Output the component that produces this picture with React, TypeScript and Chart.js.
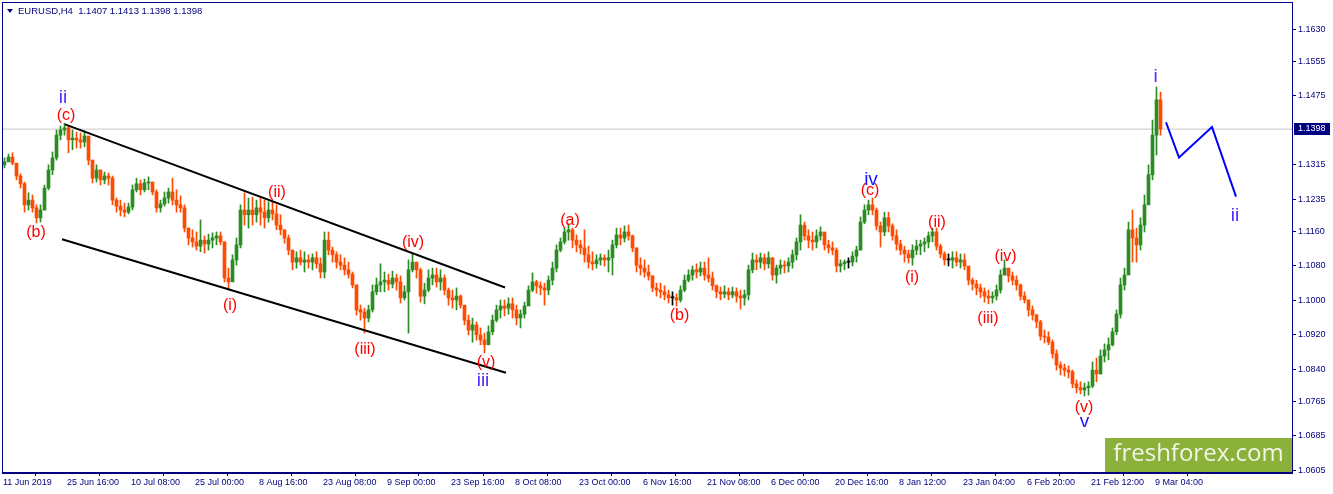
import React, { useEffect, useRef } from 'react';
import { Chart, registerables } from 'chart.js';

Chart.register(...registerables);

// ---------- data ----------
const headerText = 'EURUSD,H4  1.1407 1.1413 1.1398 1.1398';

const xTickLabels = [
  '11 Jun 2019', '25 Jun 16:00', '10 Jul 08:00', '25 Jul 00:00', '8 Aug 16:00',
  '23 Aug 08:00', '9 Sep 00:00', '23 Sep 16:00', '8 Oct 08:00', '23 Oct 00:00',
  '6 Nov 16:00', '21 Nov 08:00', '6 Dec 00:00', '20 Dec 16:00', '8 Jan 12:00',
  '23 Jan 04:00', '6 Feb 20:00', '21 Feb 12:00', '9 Mar 04:00',
];

const yTickValues = [
  1.1630, 1.1555, 1.1475, 1.1315, 1.1235, 1.1160, 1.1080,
  1.1000, 1.0920, 1.0840, 1.0765, 1.0685, 1.0605,
];

const BARS_PER_TICK = 64; // H4 bars between time labels
const BARS_PER_CANDLE = 4; // each drawn candle groups 4 H4 bars

const firstOpen = 1.1315;

const highs = [
  1.1331, 1.1340, 1.1343, 1.1308, 1.1294, 1.1275, 1.1250, 1.1245, 1.1222, 1.1222, 1.1268, 1.1315, 1.1345, 1.1396, 1.1405, 1.1412,
  1.1405, 1.1396, 1.1391, 1.1389, 1.1394, 1.1373, 1.1326, 1.1315, 1.1303, 1.1298, 1.1296, 1.1289, 1.1238, 1.1233, 1.1226, 1.1226,
  1.1268, 1.1284, 1.1280, 1.1282, 1.1287, 1.1275, 1.1257, 1.1233, 1.1252, 1.1261, 1.1284, 1.1257, 1.1243, 1.1222, 1.1168, 1.1164,
  1.1159, 1.1187, 1.1150, 1.1154, 1.1157, 1.1159, 1.1159, 1.1136, 1.1075, 1.1106, 1.1145, 1.1222, 1.1250, 1.1238, 1.1240, 1.1233,
  1.1238, 1.1233, 1.1229, 1.1229, 1.1222, 1.1199, 1.1164, 1.1152, 1.1117, 1.1113, 1.1117, 1.1113, 1.1106, 1.1108, 1.1113, 1.1099,
  1.1159, 1.1159, 1.1124, 1.1113, 1.1106, 1.1099, 1.1089, 1.1066, 1.1036, 1.0989, 1.0982, 1.0989, 1.1036, 1.1052, 1.1085, 1.1066,
  1.1061, 1.1068, 1.1061, 1.1057, 1.1034, 1.1094, 1.1110, 1.1089, 1.1075, 1.1040, 1.1071, 1.1075, 1.1075, 1.1071, 1.1059, 1.1029,
  1.1024, 1.1029, 1.1013, 1.0989, 1.0966, 1.0959, 1.0950, 1.0936, 1.0924, 1.0941, 1.0966, 1.0989, 1.1001, 1.1001, 1.1006, 1.1006,
  1.0989, 1.0978, 1.0996, 1.1034, 1.1064, 1.1047, 1.1043, 1.1040, 1.1057, 1.1089, 1.1129, 1.1145, 1.1168, 1.1178, 1.1168, 1.1152,
  1.1140, 1.1164, 1.1126, 1.1113, 1.1106, 1.1108, 1.1106, 1.1117, 1.1140, 1.1168, 1.1168, 1.1173, 1.1175, 1.1152, 1.1122, 1.1099,
  1.1094, 1.1082, 1.1057, 1.1040, 1.1040, 1.1034, 1.1024, 1.1020, 1.1015, 1.1034, 1.1059, 1.1071, 1.1080, 1.1085, 1.1089, 1.1089,
  1.1099, 1.1066, 1.1036, 1.1031, 1.1034, 1.1029, 1.1031, 1.1029, 1.1024, 1.1024, 1.1082, 1.1110, 1.1106, 1.1110, 1.1108, 1.1113,
  1.1099, 1.1082, 1.1094, 1.1092, 1.1099, 1.1117, 1.1145, 1.1199, 1.1182, 1.1164, 1.1159, 1.1164, 1.1171, 1.1152, 1.1140, 1.1136,
  1.1122, 1.1094, 1.1094, 1.1099, 1.1113, 1.1126, 1.1194, 1.1222, 1.1233, 1.1238, 1.1215, 1.1182, 1.1205, 1.1205, 1.1178, 1.1164,
  1.1140, 1.1126, 1.1117, 1.1129, 1.1140, 1.1140, 1.1145, 1.1159, 1.1168, 1.1168, 1.1131, 1.1113, 1.1108, 1.1113, 1.1113, 1.1108,
  1.1108, 1.1075, 1.1052, 1.1047, 1.1038, 1.1029, 1.1024, 1.1020, 1.1036, 1.1071, 1.1094, 1.1075, 1.1066, 1.1057, 1.1038, 1.1020,
  1.1001, 1.0987, 1.0968, 1.0954, 1.0931, 1.0927, 1.0908, 1.0885, 1.0857, 1.0852, 1.0848, 1.0838, 1.0815, 1.0811, 1.0808, 1.0811,
  1.0857, 1.0866, 1.0885, 1.0899, 1.0913, 1.0936, 1.0978, 1.1052, 1.1075, 1.1182, 1.1210, 1.1168, 1.1192, 1.1245, 1.1315, 1.1419, 1.1496, 1.1484,
];

const lows = [
  1.1308, 1.1322, 1.1315, 1.1280, 1.1261, 1.1205, 1.1210, 1.1205, 1.1180, 1.1182, 1.1210, 1.1257, 1.1292, 1.1326, 1.1373, 1.1384,
  1.1343, 1.1350, 1.1354, 1.1354, 1.1357, 1.1315, 1.1273, 1.1275, 1.1268, 1.1271, 1.1268, 1.1222, 1.1205, 1.1196, 1.1194, 1.1201,
  1.1210, 1.1252, 1.1245, 1.1252, 1.1257, 1.1245, 1.1205, 1.1205, 1.1219, 1.1226, 1.1222, 1.1205, 1.1205, 1.1159, 1.1129, 1.1124,
  1.1117, 1.1113, 1.1110, 1.1117, 1.1122, 1.1129, 1.1129, 1.1043, 1.1024, 1.1047, 1.1082, 1.1122, 1.1175, 1.1168, 1.1175, 1.1182,
  1.1175, 1.1168, 1.1182, 1.1187, 1.1164, 1.1152, 1.1133, 1.1106, 1.1071, 1.1075, 1.1082, 1.1066, 1.1075, 1.1071, 1.1075, 1.1052,
  1.1052, 1.1106, 1.1089, 1.1075, 1.1071, 1.1059, 1.1052, 1.1029, 1.0966, 1.0954, 1.0924, 1.0950, 1.0973, 1.1013, 1.1020, 1.1020,
  1.1024, 1.1029, 1.1024, 1.0994, 1.1001, 1.0924, 1.1066, 1.1052, 1.0996, 1.0992, 1.1020, 1.1036, 1.1031, 1.1024, 1.1013, 1.0989,
  1.0982, 1.0978, 1.0982, 1.0943, 1.0920, 1.0903, 1.0908, 1.0897, 1.0878, 1.0897, 1.0920, 1.0950, 1.0959, 1.0964, 1.0968, 1.0959,
  1.0943, 1.0936, 1.0959, 1.0989, 1.1020, 1.1017, 1.1013, 1.0989, 1.1013, 1.1036, 1.1066, 1.1113, 1.1131, 1.1140, 1.1122, 1.1113,
  1.1108, 1.1089, 1.1075, 1.1071, 1.1075, 1.1082, 1.1080, 1.1066, 1.1059, 1.1122, 1.1129, 1.1136, 1.1140, 1.1113, 1.1066, 1.1059,
  1.1054, 1.1047, 1.1020, 1.1010, 1.1006, 1.1001, 1.0994, 1.0989, 1.0987, 1.0996, 1.1020, 1.1043, 1.1047, 1.1052, 1.1057, 1.1047,
  1.1043, 1.1024, 1.1006, 1.1001, 1.1006, 1.1001, 1.1006, 1.0996, 1.0980, 1.0989, 1.1001, 1.1064, 1.1071, 1.1075, 1.1071, 1.1075,
  1.1047, 1.1040, 1.1061, 1.1064, 1.1066, 1.1075, 1.1094, 1.1117, 1.1140, 1.1122, 1.1117, 1.1122, 1.1140, 1.1117, 1.1110, 1.1106,
  1.1066, 1.1066, 1.1071, 1.1075, 1.1080, 1.1089, 1.1117, 1.1178, 1.1199, 1.1199, 1.1164, 1.1124, 1.1150, 1.1159, 1.1140, 1.1117,
  1.1106, 1.1089, 1.1087, 1.1082, 1.1106, 1.1106, 1.1113, 1.1122, 1.1136, 1.1117, 1.1099, 1.1082, 1.1080, 1.1075, 1.1080, 1.1075,
  1.1071, 1.1036, 1.1024, 1.1013, 1.1006, 1.0996, 1.0992, 1.0994, 1.1001, 1.1017, 1.1059, 1.1043, 1.1036, 1.1024, 1.1001, 1.0994,
  1.0964, 1.0954, 1.0936, 1.0908, 1.0901, 1.0897, 1.0866, 1.0838, 1.0827, 1.0824, 1.0820, 1.0797, 1.0785, 1.0783, 1.0778, 1.0780,
  1.0797, 1.0811, 1.0834, 1.0857, 1.0862, 1.0894, 1.0920, 1.0959, 1.1024, 1.1071, 1.1089, 1.1089, 1.1117, 1.1159, 1.1233, 1.1280, 1.1338, 1.1384,
];

const closes = [
  1.1322, 1.1333, 1.1319, 1.1289, 1.1271, 1.1222, 1.1233, 1.1215, 1.1192, 1.1210, 1.1261, 1.1303, 1.1331, 1.1384, 1.1396, 1.1401,
  1.1373, 1.1377, 1.1373, 1.1368, 1.1382, 1.1326, 1.1284, 1.1303, 1.1280, 1.1289, 1.1284, 1.1233, 1.1219, 1.1210, 1.1205, 1.1217,
  1.1257, 1.1271, 1.1257, 1.1273, 1.1275, 1.1252, 1.1215, 1.1224, 1.1238, 1.1252, 1.1233, 1.1222, 1.1215, 1.1168, 1.1145, 1.1136,
  1.1126, 1.1140, 1.1131, 1.1140, 1.1145, 1.1150, 1.1136, 1.1052, 1.1043, 1.1094, 1.1129, 1.1210, 1.1199, 1.1210, 1.1199, 1.1215,
  1.1205, 1.1192, 1.1210, 1.1201, 1.1175, 1.1164, 1.1145, 1.1117, 1.1089, 1.1099, 1.1089, 1.1094, 1.1089, 1.1099, 1.1085, 1.1066,
  1.1140, 1.1117, 1.1106, 1.1089, 1.1082, 1.1071, 1.1061, 1.1036, 1.0978, 1.0973, 1.0959, 1.0978, 1.1020, 1.1036, 1.1043, 1.1047,
  1.1038, 1.1052, 1.1043, 1.1006, 1.1020, 1.1071, 1.1089, 1.1071, 1.1010, 1.1024, 1.1052, 1.1059, 1.1043, 1.1052, 1.1024, 1.1006,
  1.1001, 1.1010, 1.0989, 1.0954, 1.0931, 1.0943, 1.0920, 1.0908, 1.0897, 1.0927, 1.0954, 1.0978, 1.0987, 1.0982, 1.0992, 1.0978,
  1.0959, 1.0968, 1.0987, 1.1024, 1.1043, 1.1034, 1.1029, 1.1024, 1.1047, 1.1075, 1.1117, 1.1136, 1.1159, 1.1164, 1.1140, 1.1129,
  1.1122, 1.1106, 1.1089, 1.1085, 1.1094, 1.1099, 1.1094, 1.1099, 1.1129, 1.1152, 1.1145, 1.1159, 1.1150, 1.1122, 1.1082, 1.1075,
  1.1066, 1.1057, 1.1029, 1.1024, 1.1020, 1.1013, 1.1006, 1.1006, 1.1001, 1.1024, 1.1047, 1.1059, 1.1071, 1.1066, 1.1075, 1.1059,
  1.1052, 1.1034, 1.1020, 1.1015, 1.1020, 1.1013, 1.1020, 1.1010, 1.1006, 1.1013, 1.1071, 1.1094, 1.1089, 1.1099, 1.1085, 1.1099,
  1.1059, 1.1075, 1.1082, 1.1080, 1.1089, 1.1106, 1.1136, 1.1175, 1.1150, 1.1140, 1.1136, 1.1150, 1.1159, 1.1129, 1.1122, 1.1117,
  1.1080, 1.1085, 1.1089, 1.1089, 1.1103, 1.1117, 1.1182, 1.1210, 1.1222, 1.1210, 1.1173, 1.1159, 1.1192, 1.1173, 1.1150, 1.1131,
  1.1117, 1.1108, 1.1099, 1.1117, 1.1126, 1.1131, 1.1136, 1.1150, 1.1159, 1.1126, 1.1108, 1.1094, 1.1094, 1.1099, 1.1089, 1.1094,
  1.1080, 1.1047, 1.1038, 1.1029, 1.1020, 1.1010, 1.1006, 1.1010, 1.1024, 1.1059, 1.1075, 1.1057, 1.1047, 1.1036, 1.1010, 1.1001,
  1.0978, 1.0966, 1.0950, 1.0917, 1.0915, 1.0903, 1.0876, 1.0850, 1.0843, 1.0838, 1.0834, 1.0806, 1.0797, 1.0792, 1.0797, 1.0801,
  1.0838, 1.0829, 1.0871, 1.0885, 1.0897, 1.0927, 1.0968, 1.1036, 1.1059, 1.1164, 1.1145, 1.1129, 1.1175, 1.1222, 1.1292, 1.1384, 1.1466, 1.1398,
];

const currentPrice = 1.1398;

// trend channel and projection (x in H4 bars from 11 Jun 2019, y in price)
const upperChannel = [{ x: 62, y: 1.1409 }, { x: 502, y: 1.1030 }];
const lowerChannel = [{ x: 59, y: 1.1142 }, { x: 503, y: 1.0832 }];
const projection = [
  { x: 1163, y: 1.1414 }, { x: 1176, y: 1.1332 }, { x: 1209, y: 1.1403 }, { x: 1233, y: 1.1241 },
];

const RED = '#FF0000';
const VIOLET = '#4A2CFF';
const BLUE = '#1414FF';
const waveLabels = [
  { text: '(c)', x: 63, y: 1.1430, color: RED, size: 16 },
  { text: '(b)', x: 33, y: 1.1158, color: RED, size: 16 },
  { text: '(i)', x: 227, y: 1.0989, color: RED, size: 16 },
  { text: '(ii)', x: 274, y: 1.1251, color: RED, size: 16 },
  { text: '(iii)', x: 362, y: 1.0886, color: RED, size: 16 },
  { text: '(iv)', x: 410, y: 1.1135, color: RED, size: 16 },
  { text: '(v)', x: 483, y: 1.0856, color: RED, size: 16 },
  { text: '(a)', x: 567, y: 1.1185, color: RED, size: 16 },
  { text: '(b)', x: 676.5, y: 1.0965, color: RED, size: 16 },
  { text: '(c)', x: 867, y: 1.1255, color: RED, size: 16 },
  { text: '(i)', x: 909, y: 1.1052, color: RED, size: 16 },
  { text: '(ii)', x: 934, y: 1.1180, color: RED, size: 16 },
  { text: '(iii)', x: 985, y: 1.0958, color: RED, size: 16 },
  { text: '(iv)', x: 1002.5, y: 1.1101, color: RED, size: 16 },
  { text: '(v)', x: 1081, y: 1.0752, color: RED, size: 16 },
  { text: 'ii', x: 60, y: 1.1470, color: VIOLET, size: 19 },
  { text: 'iii', x: 480, y: 1.0814, color: VIOLET, size: 19 },
  { text: 'iv', x: 868, y: 1.1281, color: BLUE, size: 19 },
  { text: 'v', x: 1081.5, y: 1.0718, color: BLUE, size: 19 },
  { text: 'i', x: 1152.5, y: 1.1519, color: VIOLET, size: 19 },
  { text: 'ii', x: 1232, y: 1.1196, color: VIOLET, size: 19 },
];

// ---------- styles ----------
const NAVY = '#000080';
const UP = '#2A8C22';
const DOWN = '#FF4A00';
const DOJI = '#000000';
const FONT = 'Liberation Sans';

const n = Math.min(highs.length, lows.length, closes.length);
const opens = closes.slice(0, n).map((_, i) => (i === 0 ? firstOpen : closes[i - 1]));
const candleX = opens.map((_, i) => i * BARS_PER_CANDLE + (BARS_PER_CANDLE - 1) / 2);
const candleColors = opens.map((o, i) => (closes[i] > o ? UP : closes[i] < o ? DOWN : DOJI));

const overlayPlugin = {
  id: 'mt4overlay',
  afterDraw(chart: any) {
    const { ctx, chartArea: a, scales } = chart;
    const xs = scales.x;
    const ys = scales.y;
    ctx.save();

    // wave labels
    ctx.textAlign = 'center';
    ctx.textBaseline = 'middle';
    for (const l of waveLabels) {
      ctx.font = `${l.size}px "${FONT}"`;
      ctx.fillStyle = l.color;
      ctx.fillText(l.text, xs.getPixelForValue(l.x), ys.getPixelForValue(l.y));
    }

    // watermark
    ctx.fillStyle = '#8CB13B';
    ctx.fillRect(1105, 438, a.right - 1105, a.bottom - 438);
    ctx.fillStyle = '#F1F5E6';
    ctx.font = '24px "Open Sans"';
    ctx.textAlign = 'center';
    ctx.textBaseline = 'middle';
    ctx.fillText('freshforex.com', 1198.5, 454);

    // frame
    ctx.strokeStyle = NAVY;
    ctx.lineWidth = 1;
    ctx.strokeRect(a.left + 0.5, a.top - 0.5, a.right - a.left, a.bottom - a.top);

    // current price box
    const py = Math.round(ys.getPixelForValue(currentPrice));
    ctx.fillStyle = NAVY;
    ctx.fillRect(a.right + 2, py - 6, 36, 12);
    ctx.fillStyle = '#FFFFFF';
    ctx.font = `9px "${FONT}"`;
    ctx.textAlign = 'left';
    ctx.textBaseline = 'middle';
    ctx.fillText(currentPrice.toFixed(4), a.right + 6, py);

    // header
    ctx.fillStyle = NAVY;
    ctx.beginPath();
    ctx.moveTo(7, 9);
    ctx.lineTo(13, 9);
    ctx.lineTo(10, 13);
    ctx.closePath();
    ctx.fill();
    ctx.font = `9.5px "${FONT}"`;
    ctx.textAlign = 'left';
    ctx.textBaseline = 'middle';
    ctx.fillText(headerText, 18, 11);

    ctx.restore();
  },
};

export default function App() {
  const ref = useRef<HTMLCanvasElement | null>(null);

  useEffect(() => {
    document.body.style.margin = '0';
    const canvas = ref.current;
    if (!canvas) return;

    const chart = new Chart(canvas, {
      type: 'bar',
      data: {
        datasets: [
          {
            type: 'line',
            data: [{ x: -1, y: currentPrice }, { x: 1289, y: currentPrice }],
            borderColor: '#C8C8C8',
            borderWidth: 1,
            pointRadius: 0,
            fill: false,
            order: 5,
          } as any,
          {
            type: 'bar',
            data: candleX.map((x, i) => ({ x, y: [lows[i], highs[i]] })),
            backgroundColor: candleColors,
            barThickness: 1,
            grouped: false,
            borderWidth: 0,
            order: 4,
          } as any,
          {
            type: 'bar',
            data: candleX.map((x, i) => ({ x, y: [opens[i], closes[i]] })),
            backgroundColor: candleColors,
            barThickness: 3,
            minBarLength: 1,
            grouped: false,
            borderWidth: 0,
            order: 3,
          } as any,
          {
            type: 'line',
            data: upperChannel,
            borderColor: '#000000',
            borderWidth: 2,
            pointRadius: 0,
            fill: false,
            order: 1,
          } as any,
          {
            type: 'line',
            data: lowerChannel,
            borderColor: '#000000',
            borderWidth: 2,
            pointRadius: 0,
            fill: false,
            order: 1,
          } as any,
          {
            type: 'line',
            data: projection,
            borderColor: '#0000FF',
            borderWidth: 2,
            pointRadius: 0,
            fill: false,
            tension: 0,
            order: 0,
          } as any,
        ],
      },
      options: {
        animation: false,
        responsive: false,
        events: [],
        layout: { padding: { left: 2, top: 3, right: 0, bottom: 0 } },
        plugins: {
          legend: { display: false },
          tooltip: { enabled: false },
        },
        scales: {
          x: {
            type: 'linear',
            min: -1,
            max: 1289,
            offset: false,
            afterBuildTicks: (s: any) => {
              s.ticks = xTickLabels.map((_, j) => ({ value: j * BARS_PER_TICK }));
            },
            afterFit: (s: any) => {
              s.height = 21;
              s.paddingLeft = 0;
              s.paddingRight = 0;
              s.paddingTop = 0;
              s.paddingBottom = 0;
            },
            ticks: {
              autoSkip: false,
              maxRotation: 0,
              minRotation: 0,
              align: 'start',
              padding: 1,
              color: NAVY,
              font: { family: FONT, size: 9 },
              callback: (_v: any, i: number) => xTickLabels[i],
            },
            grid: { display: true, drawOnChartArea: false, drawTicks: true, tickLength: 3, color: NAVY },
            border: { display: true, color: NAVY },
          },
          y: {
            type: 'linear',
            position: 'right',
            min: 1.0599,
            max: 1.1691,
            afterBuildTicks: (s: any) => {
              s.ticks = yTickValues.map((v) => ({ value: v }));
            },
            afterFit: (s: any) => {
              s.width = 41;
              s.paddingLeft = 0;
              s.paddingRight = 0;
              s.paddingTop = 0;
              s.paddingBottom = 0;
            },
            ticks: {
              autoSkip: false,
              padding: 2,
              crossAlign: 'near',
              color: NAVY,
              font: { family: FONT, size: 9 },
              callback: (v: any) => Number(v).toFixed(4),
            },
            grid: { display: true, drawOnChartArea: false, drawTicks: true, tickLength: 4, color: NAVY },
            border: { display: true, color: NAVY },
          },
        },
      } as any,
      plugins: [overlayPlugin],
    });

    return () => chart.destroy();
  }, []);

  return (
    <div style={{ width: 1333, height: 494, background: '#FFFFFF' }}>
      <canvas ref={ref} width={1333} height={494} style={{ display: 'block', width: 1333, height: 494 }} />
    </div>
  );
}
